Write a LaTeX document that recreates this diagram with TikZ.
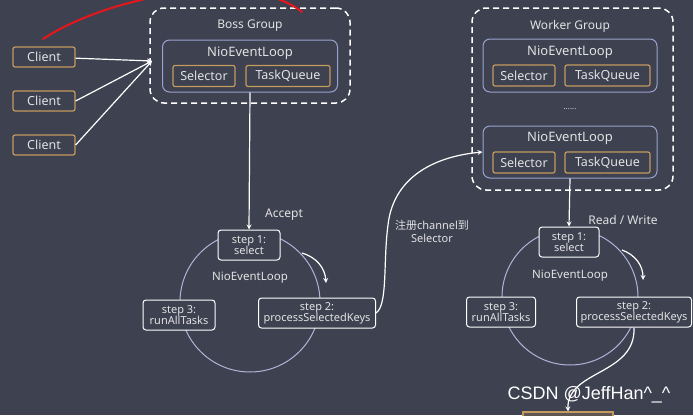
\documentclass[tikz,border=0pt]{standalone}
\usepackage{fontspec}
\setmainfont{Noto Sans}
\newfontfamily\cjk{Noto Sans CJK SC}
\newfontfamily\markfont{Liberation Sans}
\usepackage{xcolor}
\definecolor{bgcol}{HTML}{3E4150}
\definecolor{boxorange}{HTML}{C49A5E}
\definecolor{loopblue}{HTML}{9AA3CF}
\definecolor{txtcol}{HTML}{E2E2E2}
\definecolor{redpen}{HTML}{E8161B}

\begin{document}
\begin{tikzpicture}[x=1pt, y=-1pt, >=stealth,
    every node/.style={text=txtcol, inner sep=0pt},
    client/.style={draw=boxorange, line width=1.2pt, rounded corners=2pt, minimum width=62pt, minimum height=20pt, font=\fontsize{12.5}{13}\selectfont},
    part/.style={client, minimum height=21pt},
    group/.style={draw=white!90, line width=1.5pt, dash pattern=on 6pt off 4pt, rounded corners=14pt},
    loopbox/.style={draw=loopblue, line width=1pt, rounded corners=7pt},
    stepbox/.style={draw=white!85, line width=1pt, rounded corners=3pt, fill=bgcol, align=center, minimum height=30pt, font=\fontsize{11}{11}\selectfont},
    title/.style={font=\fontsize{13}{14}\selectfont},
    lbl/.style={font=\fontsize{12}{13}\selectfont},
    conn/.style={draw=white!92, line width=1.2pt}]
    \clip (0,0) rectangle (693,415);
    \fill[bgcol] (0,0) rectangle (693,415);

    \node[client] (c1) at (44,57) {Client};
    \node[client] (c2) at (44,101) {Client};
    \node[client] (c3) at (44,145) {Client};

    \node[group, minimum width=200pt, minimum height=95pt] (boss) at (250,55.5) {};
    \node[lbl] (bosst) at (250,26) {Boss Group};
    \node[loopbox, minimum width=175pt, minimum height=52pt] (bloop) at (250,66) {};
    \node[title] (bloopt) at (250,53) {NioEventLoop};
    \node[part] (bsel) at (204,76) {Selector};
    \node[part, minimum width=84pt] (btq) at (288,76) {TaskQueue};
    \coordinate (bossin) at (152,61);

    \draw[conn, ->] (c1) -- (bossin);
    \draw[conn, ->] (c2.east) -- (bossin);
    \draw[conn, ->] (c3.east) -- (bossin);

    \node[group, minimum width=201pt, minimum height=182pt] (worker) at (572.5,99) {};
    \node[lbl] (workert) at (570,26) {Worker Group};
    \node[loopbox, minimum width=174pt, minimum height=53pt] (wloop1) at (570,65.5) {};
    \node[title] (wloop1t) at (570,52) {NioEventLoop};
    \node[part] (wsel1) at (524,75.5) {Selector};
    \node[part, minimum width=85pt] (wtq1) at (607.5,75.5) {TaskQueue};
    \node[font=\fontsize{8}{8}\selectfont] (dots) at (570,109) {......};
    \node[loopbox, minimum width=174pt, minimum height=52pt] (wloop2) at (570,152) {};
    \node[title] (wloop2t) at (570,138) {NioEventLoop};
    \node[part] (wsel2) at (524,162.5) {Selector};
    \node[part, minimum width=85pt] (wtq2) at (607.5,162.5) {TaskQueue};

    \node[circle, draw=loopblue!80!white, line width=1pt, minimum size=140pt] (bcircle) at (250,302) {};
    \node[stepbox, minimum width=62pt] (bs1) at (249,245) {step 1:\\select};
    \node[stepbox, minimum width=72pt] (bs3) at (179,315) {step 3:\\runAllTasks};
    \node[stepbox, minimum width=117pt] (bs2) at (317,313) {step 2:\\processSelectedKeys};
    \node[font=\fontsize{11.5}{12}\selectfont] (bcirclet) at (250,278) {NioEventLoop};
    \node[lbl] (accept) at (284,215) {Accept};
    \coordinate (bturn1) at (302,253);
    \coordinate (bturn2) at (326,283);

    \node[circle, draw=loopblue!80!white, line width=1pt, minimum size=136pt] (wcircle) at (570,297) {};
    \node[stepbox, minimum width=60pt] (ws1) at (569,242) {step 1:\\select};
    \node[stepbox, minimum width=69pt] (ws3) at (501,312) {step 3:\\runAllTasks};
    \node[stepbox, minimum width=115pt] (ws2) at (634,312) {step 2:\\processSelectedKeys};
    \node[font=\fontsize{11.5}{12}\selectfont] (wcirclet) at (570,276) {NioEventLoop};
    \node[lbl] (rw) at (623,220) {Read / Write};
    \coordinate (wturn1) at (622,250);
    \coordinate (wturn2) at (643,280);

    \node[draw=boxorange, line width=1.2pt, fill=boxorange!25!bgcol, minimum width=90pt, minimum height=20pt] (nextbox) at (568,422) {};

    \draw[conn, ->] (bloop.south) -- (bs1.north);
    \draw[conn, ->] (bturn1) to[bend left=35] (bturn2);
    \draw[conn, ->] (wloop2.south) -- (ws1.north);
    \draw[conn, ->] (wturn1) to[bend left=35] (wturn2);
    \draw[conn, ->] (bs2.east) .. controls (388,305) and (383,262) .. (388,225)
        .. controls (393,180) and (430,157) .. (wloop2.west);
    \node[font=\fontsize{11}{13}\selectfont, align=center] (reg) at (432,231) {{\cjk 注册}channel{\cjk 到}\\Selector};
    \draw[conn, ->] (ws2.south) .. controls (636,375) and (567,370) .. (nextbox.north);

    \draw[redpen, line width=2pt, line cap=round] (43,39) .. controls (110,-5) and (250,-30) .. (302,12);

    \node[font=\markfont\fontsize{18}{19}\selectfont, text=white!85] (mark) at (589,395) {CSDN @JeffHan\textasciicircum\_\textasciicircum};
\end{tikzpicture}
\end{document}
